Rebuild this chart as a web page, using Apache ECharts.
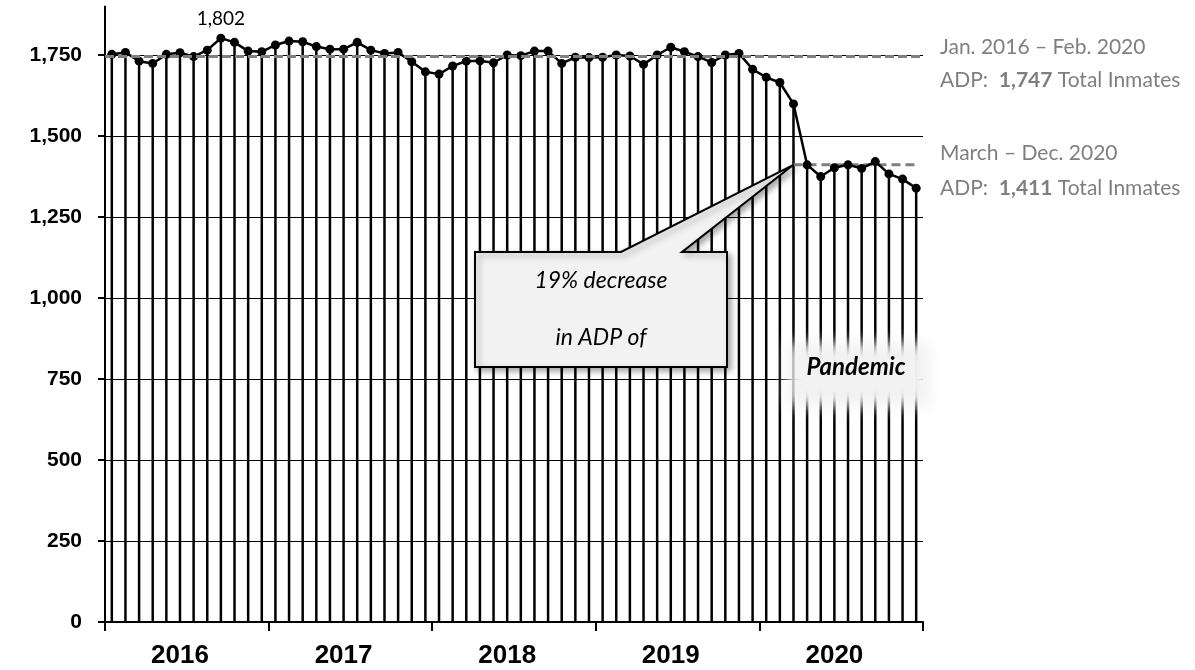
<!DOCTYPE html>
<html>
<head>
<meta charset="utf-8">
<script src="https://cdn.jsdelivr.net/npm/echarts@6/dist/echarts.min.js"></script>
<style>
  html, body { margin: 0; padding: 0; background: #fff; }
  #chart { width: 1195px; height: 670px; }
</style>
</head>
<body>
<div id="chart"></div>
<script>
// Monthly average daily population (ADP), Jan 2016 – Dec 2020
const years = [2016, 2017, 2018, 2019, 2020];
const months = ['Jan', 'Feb', 'Mar', 'Apr', 'May', 'Jun', 'Jul', 'Aug', 'Sep', 'Oct', 'Nov', 'Dec'];
const categories = years.flatMap(y => months.map(m => m + ' ' + y));

const adp2016 = [1752, 1758, 1731, 1724, 1752, 1757, 1745, 1765, 1802, 1789, 1762, 1760];
const adp2017 = [1781, 1793, 1791, 1776, 1768, 1768, 1789, 1765, 1755, 1758, 1729, 1698];
const adp2018 = [1691, 1716, 1731, 1732, 1726, 1750, 1748, 1762, 1762, 1724, 1743, 1742];
const adp2019 = [1743, 1750, 1747, 1721, 1750, 1774, 1760, 1745, 1727, 1750, 1755, 1706];
const adp2020 = [1681, 1665, 1599, 1411, 1375, 1402, 1411, 1400, 1421, 1383, 1367, 1339];
const adp = [].concat(adp2016, adp2017, adp2018, adp2019, adp2020);

// Period averages: Jan 2016 – Feb 2020 and March – Dec 2020
const avgBefore = 1747;
const avgAfter = 1411;
const pandemicStart = 50; // index of March 2020
const peakIndex = 8;      // Sep 2016, labelled

const yTickValues = [0, 250, 500, 750, 1000, 1250, 1500, 1750];
const yearTickStep = 12;

const afterLine = adp.map((v, i) => (i >= pandemicStart ? avgAfter : null));
const fmt = v => Number(v).toLocaleString('en-US');

// Layout: the data grid is taller than the labelled grid so the axis line
// runs above the last labelled value.
const plotBottom = 622;
const labelTop = 55;
const pxPerUnit = (plotBottom - labelTop) / yTickValues[yTickValues.length - 1];
const dataMax = 1900;
const dataTop = plotBottom - dataMax * pxPerUnit;
const gridLeft = 105, gridRight = 272;
const bottomGap = 670 - plotBottom;

const chart = echarts.init(document.getElementById('chart'), null, { renderer: 'canvas' });

const option = {
  animation: false,
  backgroundColor: '#ffffff',
  grid: [
    { left: gridLeft, right: gridRight, top: dataTop, bottom: bottomGap },
    { left: gridLeft, right: gridRight, top: labelTop, bottom: bottomGap }
  ],
  xAxis: [
    {
      type: 'category', gridIndex: 0, data: categories, boundaryGap: true,
      axisLine: { show: true, lineStyle: { color: '#000', width: 2 } },
      axisTick: { show: false },
      axisLabel: {
        interval: (index) => index % yearTickStep === 5,
        formatter: (val) => val.split(' ')[1],
        color: '#000', fontFamily: 'Liberation Sans', fontWeight: 'bold', fontSize: 26, margin: 21
      },
      splitLine: { show: false }
    },
    {
      type: 'value', gridIndex: 1, min: 0, max: categories.length, interval: yearTickStep,
      axisLine: { show: false },
      axisTick: { show: true, inside: false, length: 9, lineStyle: { color: '#000', width: 2 } },
      axisLabel: { show: false },
      splitLine: { show: false }
    }
  ],
  yAxis: [
    {
      type: 'value', gridIndex: 0, min: 0, max: dataMax,
      axisLine: { show: true, lineStyle: { color: '#000', width: 2 } },
      axisTick: { show: false },
      axisLabel: { show: false },
      splitLine: { show: false }
    },
    {
      type: 'value', gridIndex: 1, min: 0, max: yTickValues[yTickValues.length - 1], interval: 250,
      axisLine: { show: false },
      axisTick: { show: true, inside: false, length: 7, lineStyle: { color: '#000', width: 2 } },
      axisLabel: {
        formatter: v => fmt(v),
        color: '#000', fontFamily: 'Liberation Sans', fontWeight: 'bold', fontSize: 21, margin: 23
      },
      splitLine: { show: true, lineStyle: { color: '#000', width: 1 } }
    }
  ],
  series: [
    {
      name: 'Drop lines', type: 'bar', xAxisIndex: 0, yAxisIndex: 0,
      data: adp, barWidth: 2.5, silent: true,
      itemStyle: { color: '#000' }, z: 2
    },
    {
      name: 'ADP', type: 'line', xAxisIndex: 0, yAxisIndex: 0,
      data: adp, symbol: 'circle', symbolSize: 9,
      lineStyle: { color: '#000', width: 2.5 },
      itemStyle: { color: '#000' },
      label: {
        show: true, position: 'top', distance: 5,
        formatter: p => (p.dataIndex === peakIndex ? fmt(p.value) : ''),
        color: '#000', fontFamily: 'Lato', fontSize: 19
      },
      markLine: {
        silent: true, symbol: 'none', label: { show: false },
        lineStyle: { color: '#7f7f7f', width: 3, type: [9, 4] },
        data: [{ yAxis: avgBefore }]
      },
      z: 4
    },
    {
      name: 'ADP March – Dec. 2020', type: 'line', xAxisIndex: 0, yAxisIndex: 0,
      data: afterLine, symbol: 'none', connectNulls: false,
      lineStyle: { color: '#7f7f7f', width: 3, type: [9, 5] },
      z: 3
    }
  ]
};

chart.setOption(option);

// Annotations
const tip = chart.convertToPixel({ xAxisIndex: 0, yAxisIndex: 0 }, [pandemicStart, avgAfter]);
const grey = '#7f7f7f';
const noteFont = { fontFamily: 'Lato', fontSize: 21 };
// Soft-edged panel: only the blurred shadow of an offset shape is visible
const shift = 2000;

chart.setOption({
  graphic: [
    {
      type: 'polygon', z: 100,
      shape: { points: [[475, 252], [621, 252], tip, [682, 252], [727, 252], [727, 367], [475, 367]] },
      style: {
        fill: '#f2f2f2', stroke: '#000', lineWidth: 2,
        shadowBlur: 6, shadowOffsetX: 3, shadowOffsetY: 3, shadowColor: 'rgba(0,0,0,0.35)'
      }
    },
    {
      type: 'text', z: 101, x: 601, y: 281,
      style: { text: '19% decrease', fontFamily: 'Lato', fontStyle: 'italic', fontSize: 23, fill: '#000', align: 'center', verticalAlign: 'middle' }
    },
    {
      type: 'text', z: 101, x: 601, y: 338,
      style: { text: 'in ADP of', fontFamily: 'Lato', fontStyle: 'italic', fontSize: 23, fill: '#000', align: 'center', verticalAlign: 'middle' }
    },
    {
      type: 'rect', z: 100,
      shape: { x: 788 - shift, y: 343, width: 142, height: 63 },
      style: { fill: '#f2f2f2', shadowBlur: 14, shadowOffsetX: shift, shadowColor: '#f2f2f2' }
    },
    {
      type: 'text', z: 101, x: 856, y: 367,
      style: { text: 'Pandemic', fontFamily: 'Lato', fontStyle: 'italic', fontWeight: 'bold', fontSize: 24, fill: '#000', align: 'center', verticalAlign: 'middle' }
    },
    {
      type: 'text', z: 101, x: 940, y: 47,
      style: Object.assign({ text: 'Jan. 2016 – Feb. 2020', fill: grey, verticalAlign: 'middle' }, noteFont)
    },
    {
      type: 'text', z: 101, x: 940, y: 80,
      style: Object.assign({
        text: '{n|ADP:  }{b|' + fmt(avgBefore) + '}{n| Total Inmates}', verticalAlign: 'middle',
        rich: { n: Object.assign({ fill: grey }, noteFont), b: Object.assign({ fill: grey, fontWeight: 'bold' }, noteFont) }
      }, noteFont)
    },
    {
      type: 'text', z: 101, x: 940, y: 153,
      style: Object.assign({ text: 'March – Dec. 2020', fill: grey, verticalAlign: 'middle' }, noteFont)
    },
    {
      type: 'text', z: 101, x: 940, y: 188,
      style: Object.assign({
        text: '{n|ADP:  }{b|' + fmt(avgAfter) + '}{n| Total Inmates}', verticalAlign: 'middle',
        rich: { n: Object.assign({ fill: grey }, noteFont), b: Object.assign({ fill: grey, fontWeight: 'bold' }, noteFont) }
      }, noteFont)
    }
  ]
});
</script>
</body>
</html>
